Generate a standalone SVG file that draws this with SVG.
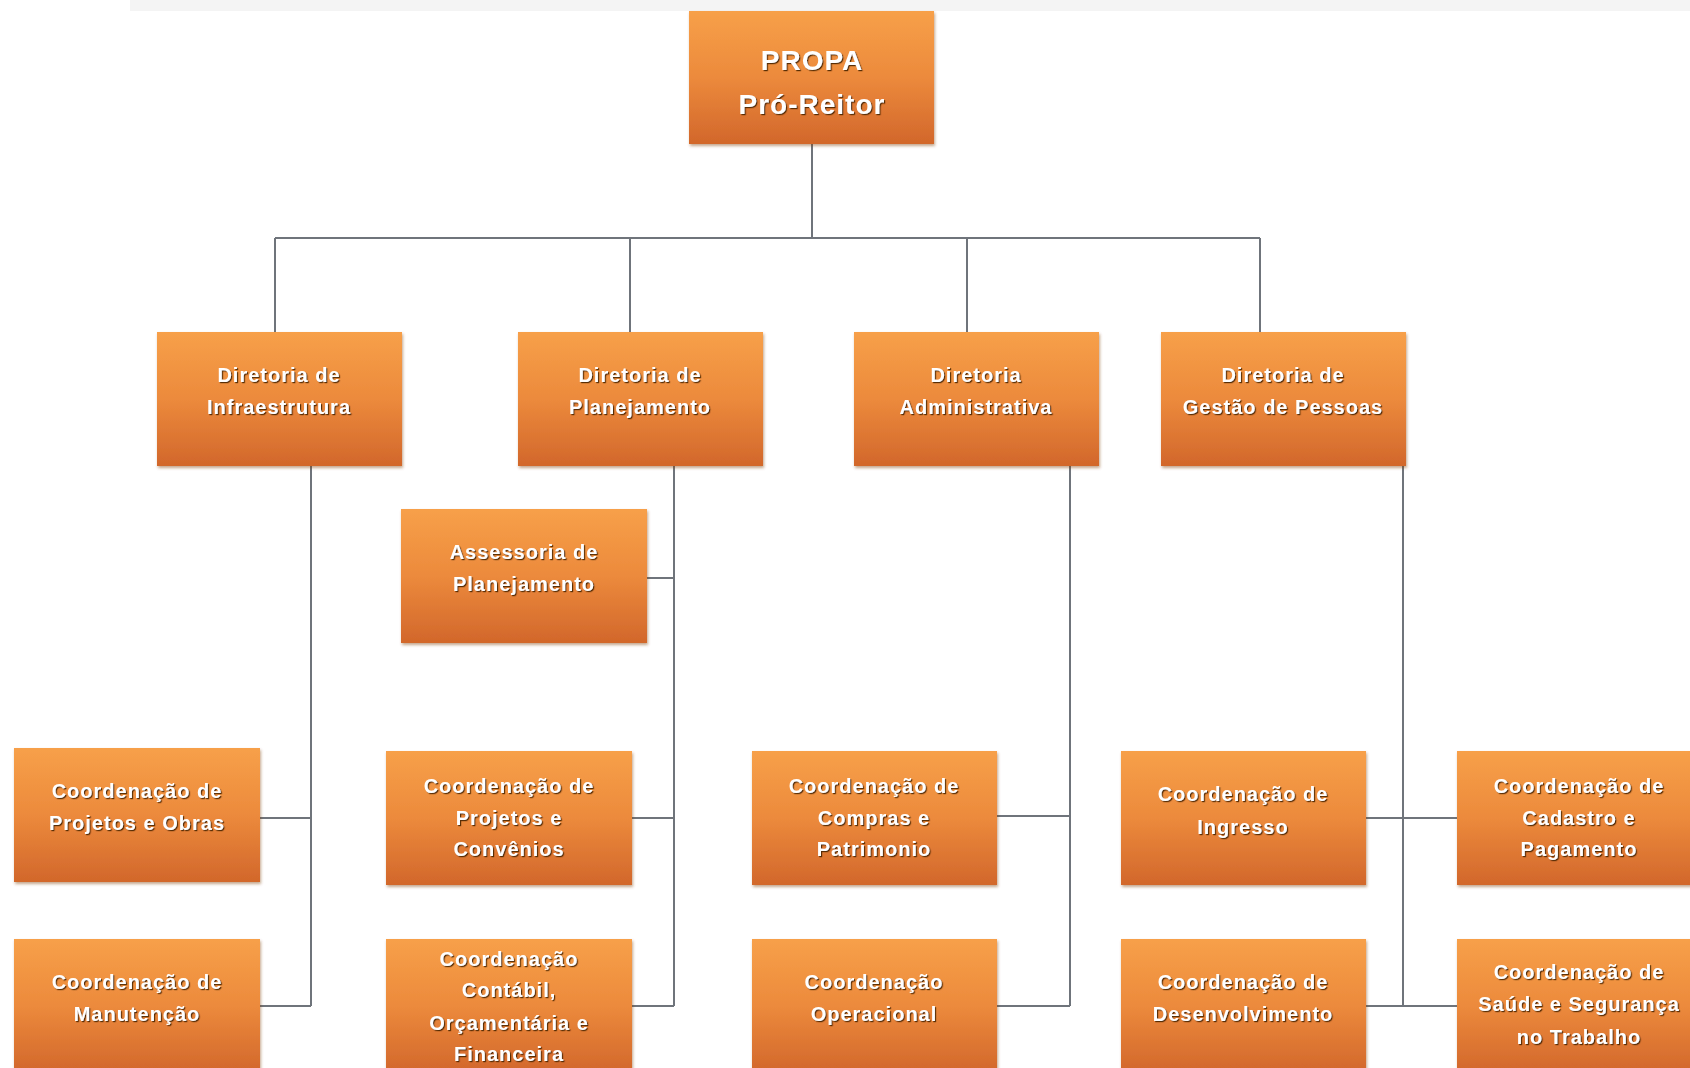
<svg xmlns="http://www.w3.org/2000/svg" width="1690" height="1068" viewBox="0 0 1690 1068">
<defs>
<linearGradient id="og" x1="0" y1="0" x2="0" y2="1">
<stop offset="0" stop-color="#f7a049"/>
<stop offset="0.5" stop-color="#ec8a3c"/>
<stop offset="1" stop-color="#d2672b"/>
</linearGradient>
<filter id="bs" x="-5%" y="-5%" width="110%" height="115%">
<feDropShadow dx="1" dy="2" stdDeviation="1.5" flood-color="#7a3a10" flood-opacity="0.45"/>
</filter>
<filter id="ts" x="-5%" y="-20%" width="110%" height="150%">
<feDropShadow dx="1.2" dy="1.2" stdDeviation="0.7" flood-color="#4a2000" flood-opacity="0.9"/>
</filter>
</defs>
<style>
.box{fill:url(#og);filter:url(#bs)}
.t{font-family:"Liberation Sans",Arial,sans-serif;font-weight:bold;font-size:20px;letter-spacing:1px;fill:#ffffff;text-anchor:middle;filter:url(#ts)}
.big{font-size:28px}
.c{stroke:#6f747b;stroke-width:2;fill:none}
</style>
<rect x="130" y="0" width="1560" height="11" fill="#f4f4f4"/>
<g id="connectors">
<path class="c" d="M812 144V238M275 238H1260M275 238V332M630 238V332M967 238V332M1260 238V332"/>
<path class="c" d="M311 466V1006M260 818H311M260 1006H311"/>
<path class="c" d="M674 466V1006M647 578H674M632 818H674M632 1006H674"/>
<path class="c" d="M1070 466V1006M997 816H1070M997 1006H1070"/>
<path class="c" d="M1403 466V1006M1366 818H1457M1366 1006H1457"/>
</g>
<g id="propa"><rect class="box" x="689" y="11" width="245" height="133"/><text class="t big" x="812" y="70">PROPA</text><text class="t big" x="812" y="114">Pró-Reitor</text></g>
<g id="dir-infra"><rect class="box" x="157" y="332" width="245" height="134"/><text class="t" x="279" y="382">Diretoria de</text><text class="t" x="279" y="414">Infraestrutura</text></g>
<g id="dir-plan"><rect class="box" x="518" y="332" width="245" height="134"/><text class="t" x="640" y="382">Diretoria de</text><text class="t" x="640" y="414">Planejamento</text></g>
<g id="dir-admin"><rect class="box" x="854" y="332" width="245" height="134"/><text class="t" x="976" y="382">Diretoria</text><text class="t" x="976" y="414">Administrativa</text></g>
<g id="dir-gestao"><rect class="box" x="1161" y="332" width="245" height="134"/><text class="t" x="1283" y="382">Diretoria de</text><text class="t" x="1283" y="414">Gestão de Pessoas</text></g>
<g id="assessoria"><rect class="box" x="401" y="509" width="246" height="134"/><text class="t" x="524" y="559">Assessoria de</text><text class="t" x="524" y="591">Planejamento</text></g>
<g id="coord-projetos-obras"><rect class="box" x="14" y="748" width="246" height="134"/><text class="t" x="137" y="798">Coordenação de</text><text class="t" x="137" y="830">Projetos e Obras</text></g>
<g id="coord-manutencao"><rect class="box" x="14" y="939" width="246" height="134"/><text class="t" x="137" y="989">Coordenação de</text><text class="t" x="137" y="1021">Manutenção</text></g>
<g id="coord-projetos-convenios"><rect class="box" x="386" y="751" width="246" height="134"/><text class="t" x="509" y="793">Coordenação de</text><text class="t" x="509" y="825">Projetos e</text><text class="t" x="509" y="856">Convênios</text></g>
<g id="coord-contabil"><rect class="box" x="386" y="939" width="246" height="134"/><text class="t" x="509" y="966">Coordenação</text><text class="t" x="509" y="997">Contábil,</text><text class="t" x="509" y="1030">Orçamentária e</text><text class="t" x="509" y="1061">Financeira</text></g>
<g id="coord-compras"><rect class="box" x="752" y="751" width="245" height="134"/><text class="t" x="874" y="793">Coordenação de</text><text class="t" x="874" y="825">Compras e</text><text class="t" x="874" y="856">Patrimonio</text></g>
<g id="coord-operacional"><rect class="box" x="752" y="939" width="245" height="134"/><text class="t" x="874" y="989">Coordenação</text><text class="t" x="874" y="1021">Operacional</text></g>
<g id="coord-ingresso"><rect class="box" x="1121" y="751" width="245" height="134"/><text class="t" x="1243" y="801">Coordenação de</text><text class="t" x="1243" y="834">Ingresso</text></g>
<g id="coord-desenvolvimento"><rect class="box" x="1121" y="939" width="245" height="134"/><text class="t" x="1243" y="989">Coordenação de</text><text class="t" x="1243" y="1021">Desenvolvimento</text></g>
<g id="coord-cadastro"><rect class="box" x="1457" y="751" width="245" height="134"/><text class="t" x="1579" y="793">Coordenação de</text><text class="t" x="1579" y="825">Cadastro e</text><text class="t" x="1579" y="856">Pagamento</text></g>
<g id="coord-saude"><rect class="box" x="1457" y="939" width="245" height="134"/><text class="t" x="1579" y="979">Coordenação de</text><text class="t" x="1579" y="1011">Saúde e Segurança</text><text class="t" x="1579" y="1044">no Trabalho</text></g>
</svg>
